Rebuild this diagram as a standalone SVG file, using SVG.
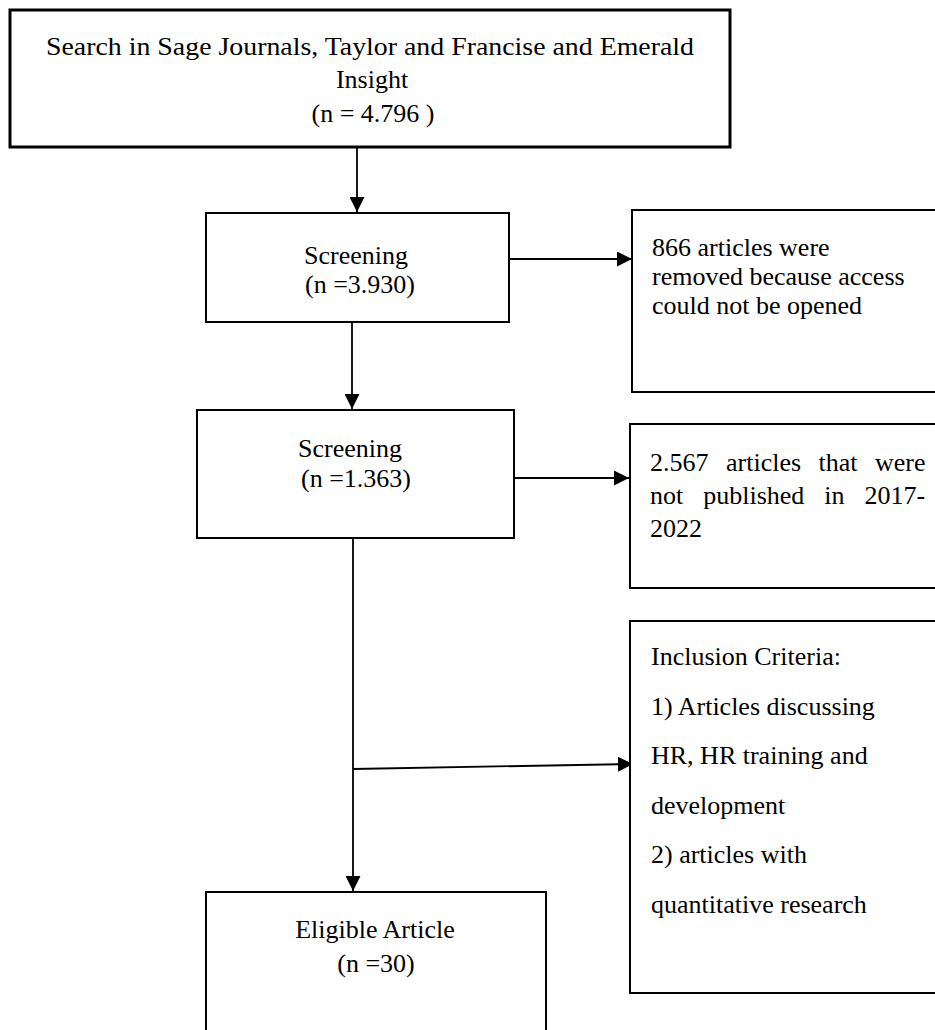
<svg xmlns="http://www.w3.org/2000/svg" width="935" height="1030" viewBox="0 0 935 1030">
<style>
  .box { fill: #ffffff; stroke: #000000; stroke-width: 2; }
  .thick { stroke-width: 3; }
  .t { font-family: "Liberation Serif", "Times New Roman", serif; font-size: 26px; fill: #000000; }
  .c { text-anchor: middle; }
  .conn { stroke: #000000; stroke-width: 1.8; fill: none; }
</style>
<defs>
  <marker id="ah" viewBox="0 0 10 10" refX="10" refY="5" markerWidth="15" markerHeight="15" markerUnits="userSpaceOnUse" orient="auto">
    <path d="M0,0 L10,5 L0,10 Z" fill="#000000"/>
  </marker>
</defs>

<g id="connectors">
  <line class="conn" x1="357" y1="147" x2="357" y2="212" marker-end="url(#ah)"/>
  <line class="conn" x1="510" y1="259" x2="632" y2="259" marker-end="url(#ah)"/>
  <line class="conn" x1="352" y1="322" x2="352" y2="409" stroke-width="1.4" marker-end="url(#ah)"/>
  <line class="conn" x1="514" y1="478" x2="629" y2="478" marker-end="url(#ah)"/>
  <line class="conn" x1="353" y1="538" x2="353" y2="891" marker-end="url(#ah)"/>
  <line class="conn" x1="353" y1="769" x2="633" y2="764" stroke-width="1.5" marker-end="url(#ah)"/>
</g>

<g id="node-search">
  <rect class="box thick" x="10" y="10" width="720" height="137"/>
  <text class="t c" x="370" y="55" textLength="648" lengthAdjust="spacingAndGlyphs">Search in Sage Journals, Taylor and Francise and Emerald</text>
  <text class="t c" x="372" y="88">Insight</text>
  <text class="t c" x="373" y="122">(n = 4.796 )</text>
</g>

<g id="node-screening1">
  <rect class="box" x="206" y="213" width="303" height="109"/>
  <text class="t c" x="356" y="264">Screening</text>
  <text class="t c" x="360" y="293">(n =3.930)</text>
</g>

<g id="node-removed">
  <rect class="box" x="632" y="210" width="320" height="182"/>
  <text class="t" x="652" y="256">866 articles were</text>
  <text class="t" x="652" y="285">removed because access</text>
  <text class="t" x="652" y="314">could not be opened</text>
</g>

<g id="node-screening2">
  <rect class="box" x="197" y="410" width="317" height="128"/>
  <text class="t c" x="350" y="457">Screening</text>
  <text class="t c" x="356" y="487">(n =1.363)</text>
</g>

<g id="node-notpublished">
  <rect class="box" x="630" y="424" width="320" height="164"/>
  <text class="t" x="650" y="471" word-spacing="11">2.567 articles that were</text>
  <text class="t" x="650" y="504" word-spacing="13.5">not published in 2017-</text>
  <text class="t" x="650" y="537">2022</text>
</g>

<g id="node-inclusion">
  <rect class="box" x="630" y="621" width="320" height="372"/>
  <text class="t" x="651" y="665">Inclusion Criteria:</text>
  <text class="t" x="651" y="715">1) Articles discussing</text>
  <text class="t" x="651" y="764">HR, HR training and</text>
  <text class="t" x="651" y="814">development</text>
  <text class="t" x="651" y="863">2) articles with</text>
  <text class="t" x="651" y="913">quantitative research</text>
</g>

<g id="node-eligible">
  <rect class="box" x="206" y="892" width="340" height="160"/>
  <text class="t c" x="375" y="938">Eligible Article</text>
  <text class="t c" x="376" y="972">(n =30)</text>
</g>
</svg>
